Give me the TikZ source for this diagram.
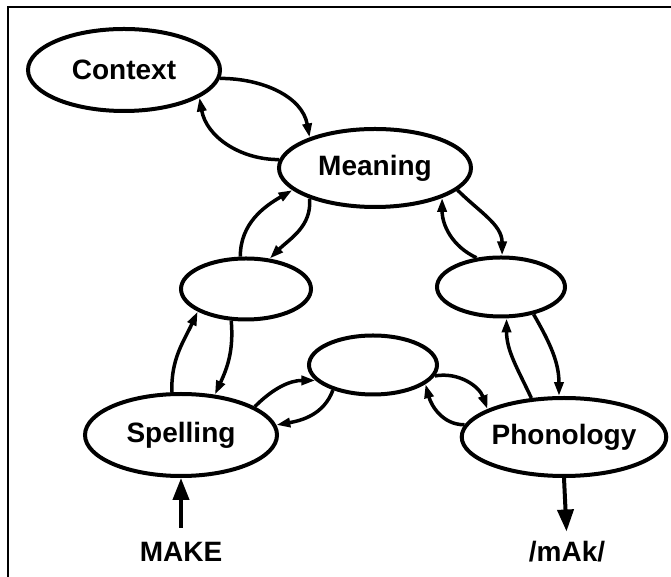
\documentclass[tikz,border=0pt]{standalone}
\usepackage{fontspec}
\setmainfont{Liberation Sans}
\usetikzlibrary{arrows.meta,shapes.geometric}
\begin{document}
\begin{tikzpicture}[x=1pt,y=1pt,
  big/.style={ellipse,draw,line width=4pt,inner sep=0pt,minimum width=192pt,minimum height=80pt,
    font=\bfseries\fontsize{28}{30}\selectfont},
  blank/.style={ellipse,draw,line width=4pt,inner sep=0pt,minimum width=128pt,minimum height=59pt},
  link/.style={line width=3.5pt,-{Triangle[length=14pt,width=9pt]}},
  bigarrow/.style={line width=4pt,-{Triangle[length=22pt,width=16pt]}},
  word/.style={anchor=base,inner sep=0pt,font=\bfseries\fontsize{28}{30}\selectfont}]
\useasboundingbox (0,0) rectangle (671,577);
\draw[line width=2pt] (8,0) -- (8,570) -- (671,570);
% nodes
\node[big,minimum height=82pt] (ctx) at (124,507) {Context};
\node[big,minimum height=78pt] (mean) at (375,409) {Meaning};
\node[blank,minimum width=130pt,minimum height=61pt] (lb) at (246,288) {};
\node[blank] (rb) at (501,290) {};
\node[blank] (mid) at (373,212) {};
\node[big,minimum height=82pt] (spell) at (181,142) {Spelling};
\node[big,minimum width=188pt,minimum height=78pt] (phon) at (564,140) {Phonology};
\node[word] (make) at (181,15) {MAKE};
\node[word] (mak) at (567,15) {/mAk/};
% connectors
\draw[link] (ctx.-5) to[out=0,in=100] (mean.155);
\draw[link] (mean.175) to[out=180,in=-80] (ctx.-20);
\draw[link] (lb.100) to[out=90,in=-150] (mean.-165);
\draw[link] (mean.-155) to[out=-85,in=45] (lb.52);
\draw[link] (mean.-15) to[out=-45,in=90] (rb.88);
\draw[link] (rb.130) to[out=155,in=-90] (mean.-24);
\draw[link] (spell.102) to[out=92,in=-115] (lb.-155);
\draw[link] (lb.-115) to[out=-85,in=65] (spell.50);
\draw[link] (phon.130) to[out=115,in=-90] (rb.-80);
\draw[link] (rb.-40) to[out=-60,in=90] (phon.97);
\draw[link] (mid.-10) to[out=10,in=110] (phon.160);
\draw[link] (phon.173) to[out=180,in=-75] (mid.-20);
\draw[link] (spell.21) to[out=45,in=180] (mid.-165);
\draw[link] (mid.-148) to[out=-110,in=10] (spell.6);
\draw[bigarrow,shorten <=15pt] (make.north) -- (spell.south);
\draw[bigarrow,shorten >=10pt] (phon.south) -- (mak.north);
\end{tikzpicture}
\end{document}
